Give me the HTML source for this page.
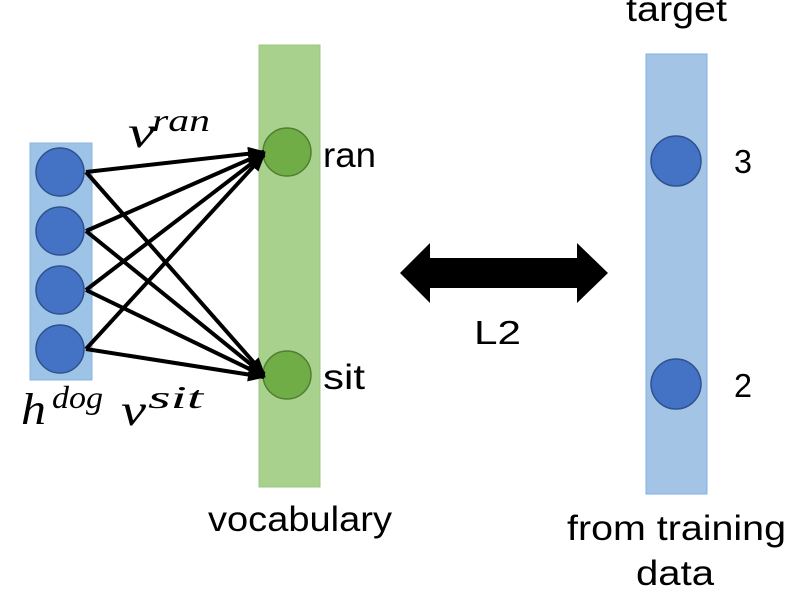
<!DOCTYPE html>
<html><head><style>body{margin:0;background:#fff}</style></head><body>
<svg width="812" height="603" xmlns="http://www.w3.org/2000/svg" font-family="Liberation Sans, sans-serif">
<defs>
<marker id="b" markerWidth="18" markerHeight="14" refX="16" refY="7" orient="auto" markerUnits="userSpaceOnUse"><path d="M0,0 L18,7 L0,14 Z" fill="#000"/></marker></defs>
<rect x="30" y="143" width="62" height="237" fill="#9dc3e6" stroke="#8ab4e0"/>
<rect x="259" y="45" width="61" height="442" fill="#a9d18e" stroke="#9cc87e"/>
<rect x="646" y="54" width="61" height="440" fill="#a4c4e6" stroke="#7fb0e8"/>
<g fill="#4472c4" stroke="#2f528f" stroke-width="1.5">
<circle cx="60" cy="172" r="24"/><circle cx="60" cy="231" r="24"/><circle cx="60" cy="290" r="24"/><circle cx="60" cy="349" r="24"/>
<circle cx="676" cy="161" r="25"/><circle cx="676" cy="384" r="25"/></g>
<g fill="#70ad47" stroke="#507e32" stroke-width="1.5"><circle cx="287" cy="152" r="24"/><circle cx="287" cy="375" r="24"/></g>
<g stroke="#000" stroke-width="4" marker-end="url(#b)">
<line x1="86" y1="172" x2="264" y2="152"/><line x1="86" y1="231" x2="264" y2="153"/><line x1="86" y1="290" x2="264" y2="154"/><line x1="86" y1="349" x2="264" y2="155"/>
<line x1="86" y1="172" x2="264" y2="374"/><line x1="86" y1="231" x2="264" y2="375"/><line x1="86" y1="290" x2="264" y2="376"/><line x1="86" y1="349" x2="264" y2="377"/>
</g>
<path d="M400,273 L430,243 L430,258 L577,258 L577,243 L608,273 L577,303 L577,288 L430,288 L430,303 Z" fill="#000"/>
<g font-size="35" fill="#000">
<text x="323" y="167" textLength="53" lengthAdjust="spacingAndGlyphs">ran</text>
<text x="323" y="389" textLength="42" lengthAdjust="spacingAndGlyphs">sit</text>
<text x="734" y="173" font-size="33" textLength="18" lengthAdjust="spacingAndGlyphs">3</text>
<text x="734" y="397" font-size="33" textLength="18" lengthAdjust="spacingAndGlyphs">2</text>
<text x="474" y="344" font-size="33" textLength="47" lengthAdjust="spacingAndGlyphs">L2</text>
<text x="626" y="21" textLength="101" lengthAdjust="spacingAndGlyphs">target</text>
<text x="208" y="531" textLength="184" lengthAdjust="spacingAndGlyphs">vocabulary</text>
<text x="567" y="540" textLength="219" lengthAdjust="spacingAndGlyphs">from training</text>
<text x="636" y="585" textLength="78" lengthAdjust="spacingAndGlyphs">data</text>
</g>
<g font-family="Liberation Serif, DejaVu Serif, serif" font-style="italic" fill="#000">
<text x="128" y="147" font-size="44" textLength="27" lengthAdjust="spacingAndGlyphs">v</text>
<text x="152" y="131" font-size="32" textLength="58" lengthAdjust="spacingAndGlyphs">ran</text>
<text x="21" y="424" font-size="44" textLength="25" lengthAdjust="spacingAndGlyphs">h</text>
<text x="52" y="408" font-size="32" textLength="51" lengthAdjust="spacingAndGlyphs">dog</text>
<text x="121" y="425" font-size="44" textLength="25" lengthAdjust="spacingAndGlyphs">v</text>
<text x="148" y="408" font-size="32" textLength="55" lengthAdjust="spacingAndGlyphs">sit</text>
</g>
</svg>
</body></html>
